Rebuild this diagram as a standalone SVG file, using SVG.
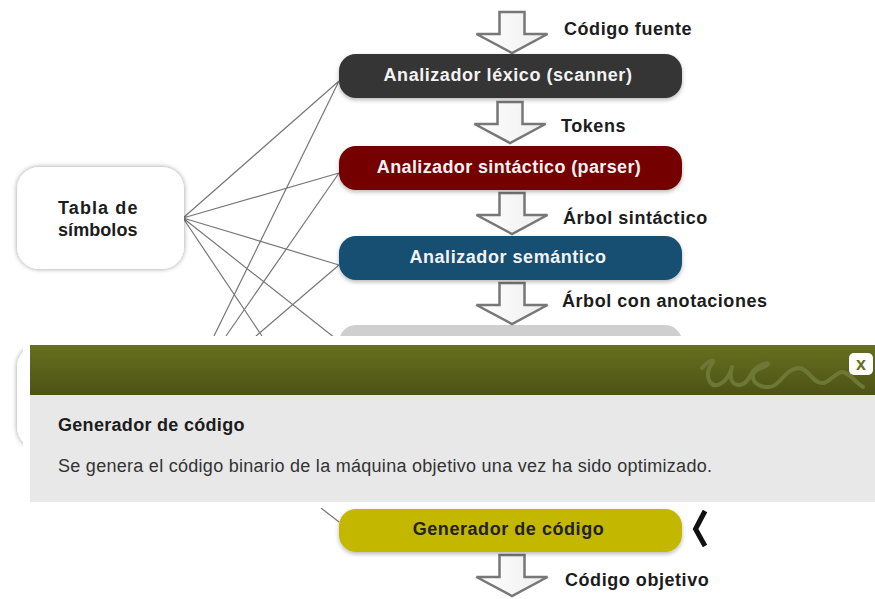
<svg xmlns="http://www.w3.org/2000/svg" width="875" height="599" viewBox="0 0 875 599">
<defs>
<linearGradient id="hd" x1="0" y1="0" x2="0" y2="1"><stop offset="0" stop-color="#66701f"/><stop offset="1" stop-color="#4d5216"/></linearGradient>
<linearGradient id="ar" x1="0" y1="0" x2="1" y2="0"><stop offset="0" stop-color="#ffffff"/><stop offset="1" stop-color="#eeeeee"/></linearGradient>
<filter id="sh" x="-10%" y="-20%" width="120%" height="150%"><feDropShadow dx="0" dy="2" stdDeviation="2" flood-color="#000" flood-opacity="0.28"/></filter>
<filter id="sh2" x="-10%" y="-10%" width="120%" height="120%"><feDropShadow dx="0" dy="0" stdDeviation="2.500" flood-color="#000" flood-opacity="0.4"/></filter>
<path id="arrow" d="M-12.500 0H12.500V22H35.500L0 41L-35.500 22H-12.500Z"/>
</defs>
<style>
text{font-family:"Liberation Sans",Arial,sans-serif;font-weight:700;font-size:18px;letter-spacing:.55px}
.w{fill:#f2f2f2;text-anchor:middle}
.k{fill:#1c1c1c}
.a{fill:url(#ar);stroke:#777;stroke-width:2.500}
.c{stroke:#777;stroke-width:1.200;fill:none}
</style>
<rect width="875" height="599" fill="#fff"/>
<g id="gris"><rect x="339" y="325" width="343" height="44" rx="17" fill="#cfcfcf"/></g>
<g id="connectors">
<path class="c" d="M183 218L339 81M183 218L339 173M183 218L339 265M183 218L340 342M339 81L214 336M339 173L226 336M339 265L256 336M183 218L262 336M321 508L339 522"/>
</g>
<g id="arrows">
<use href="#arrow" class="a" x="512" y="12"/>
<use href="#arrow" class="a" x="510" y="102"/>
<use href="#arrow" class="a" x="512" y="193"/>
<use href="#arrow" class="a" x="512" y="283"/>
<use href="#arrow" class="a" x="512" y="555"/>
</g>
<g id="tabla"><rect x="17" y="167" width="167" height="102" rx="22" fill="#fff" filter="url(#sh2)"/><text x="98" y="214" class="k" text-anchor="middle" textLength="80">Tabla de</text><text x="98" y="236" class="k" text-anchor="middle" textLength="80">símbolos</text></g>
<g id="errores"><rect x="17" y="345" width="60" height="104" rx="22" fill="#fff" filter="url(#sh2)"/></g>
<rect x="23" y="336" width="852" height="172" fill="#fff"/>
<g id="lexico"><rect x="339" y="54" width="343" height="44" rx="17" fill="#363636" filter="url(#sh)"/><text x="508" y="81" class="w">Analizador léxico (scanner)</text></g>
<g id="sintactico"><rect x="339" y="146" width="343" height="44" rx="17" fill="#750000" filter="url(#sh)"/><text x="509" y="173" class="w" style="letter-spacing:.38px">Analizador sintáctico (parser)</text></g>
<g id="semantico"><rect x="339" y="236" width="343" height="44" rx="17" fill="#154f72" filter="url(#sh)"/><text x="508" y="263" class="w">Analizador semántico</text></g>
<g id="generador"><rect x="339" y="509" width="343" height="43" rx="17" fill="#c3b700" filter="url(#sh)"/><text x="508.500" y="535" class="w" style="fill:#222">Generador de código</text></g>
<path id="marca" d="M705 511L695.500 529L705 546" fill="none" stroke="#111" stroke-width="5"/>
<g id="labels">
<text x="564" y="35" class="k">Código fuente</text>
<text x="561" y="132" class="k">Tokens</text>
<text x="563" y="224" class="k">Árbol sintáctico</text>
<text x="562" y="307" class="k">Árbol con anotaciones</text>
<text x="565" y="586" class="k">Código objetivo</text>
</g>
<g id="popup">
<rect x="30" y="345" width="845" height="50" fill="url(#hd)"/>
<rect x="30" y="395" width="845" height="107" fill="#e8e8e8"/>
<path d="M702 368C707 362 714 358 713 362C708 368 706 376 710 382C715 389 724 384 730 373L732 367C729 376 731 384 738 385C744 386 749 379 752 373C757 364 770 362 768 364C764 369 754 368 753 375C752 385 765 389 773 386C782 382 785 370 798 368C808 367 812 383 822 383C830 383 836 371 843 372C851 374 856 383 863 387" fill="none" stroke="#6e7836" stroke-width="4" stroke-linecap="round" stroke-linejoin="round"/>
<rect x="849" y="353" width="24" height="22" rx="5" fill="#fff"/>
<text x="861" y="370" style="font-size:18px;letter-spacing:0" fill="#66701f" text-anchor="middle">x</text>
<text x="58" y="431" fill="#1c1c1c" style="letter-spacing:.3px">Generador de código</text>
<text x="58" y="472" fill="#333" style="font-weight:400;letter-spacing:.28px">Se genera el código binario de la máquina objetivo una vez ha sido optimizado.</text>
</g>
</svg>
